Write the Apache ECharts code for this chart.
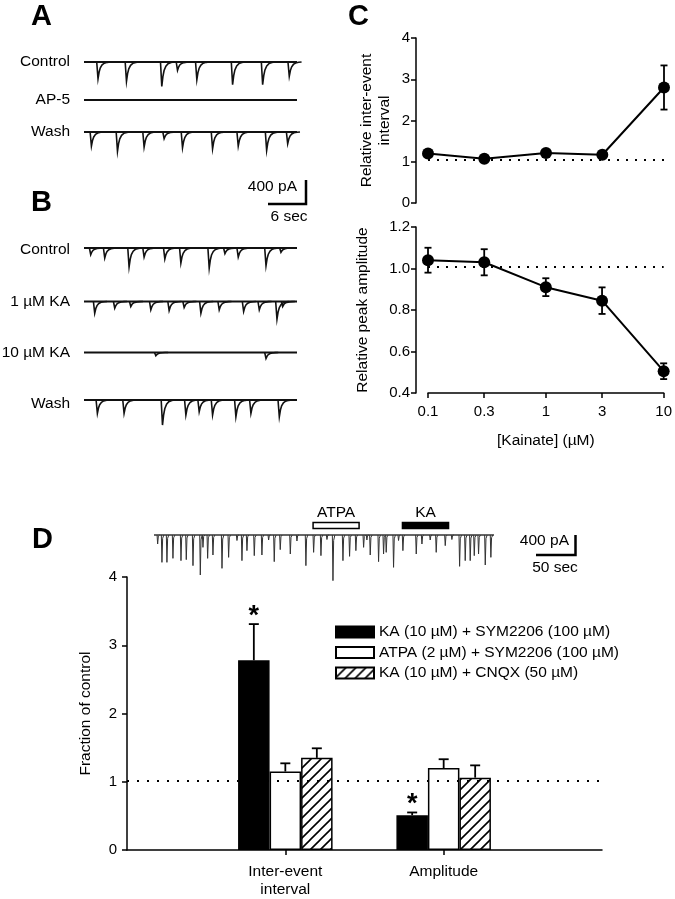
<!DOCTYPE html>
<html><head><meta charset="utf-8">
<script src="https://cdn.jsdelivr.net/npm/echarts@6/dist/echarts.min.js"></script>
<style>html,body{margin:0;padding:0;background:#fff}#c{width:675px;height:899px}</style>
</head><body><div id="c"></div>
<script>
// ================= DATA =================
// Panels A & B: spontaneous events, time (s) and amplitude (pA)
const abDuration = 33.6;
const aControlTimes = [2.1, 6.59, 12.16, 14.64, 17.69, 23.33, 28.07, 32.27];
const aControlAmps  = [279, 322, 406, 139, 296, 379, 379, 239];
const aAp5Times = [];
const aAp5Amps  = [];
const aWashTimes = [1.06, 5.17, 9.37, 12.53, 15.43, 20.17, 24.22, 28.7, 32.02];
const aWashAmps  = [234, 322, 250, 112, 262, 279, 234, 306, 195];
const bControlTimes = [0.95, 3.16, 7.0, 9.37, 12.64, 15.17, 19.64, 22.12, 24.22, 28.6, 30.96];
const bControlAmps  = [112, 167, 317, 150, 184, 250, 334, 95, 150, 296, 72];
const bKa1Times = [1.58, 4.74, 7.27, 10.43, 13.32, 15.69, 18.33, 21.22, 25.07, 27.54, 30.33, 31.23];
const bKa1Amps  = [195, 112, 84, 139, 150, 100, 195, 139, 167, 139, 296, 84];
const bKa10Times = [11.22, 28.6];
const bKa10Amps  = [55, 100];
const bWashTimes = [2.0, 6.21, 12.27, 15.96, 18.06, 20.17, 23.85, 26.22, 30.7];
const bWashAmps  = [222, 222, 418, 250, 195, 250, 279, 222, 279];

// Panel D trace
const dDuration = 436;
const dTimes = [4.3, 9.8, 16.2, 23.9, 34.2, 41.0, 49.6, 59.0, 62.4, 68.4, 75.2, 86.8, 95.3, 106, 112.4, 118.8, 128.2, 138.0, 146.6, 153.8, 161.5, 174.4, 182.9, 194.4, 204.3, 213.7, 221.4, 229.1, 241.9, 250.4, 258.5, 268.4, 272.6, 276.9, 287.6, 294.0, 297.4, 306.8, 313.2, 318.8, 335.9, 343.2, 353.8, 361.5, 373.1, 381.6, 391.5, 398.7, 405.1, 410.3, 415.8, 424.4, 431.6];
const dAmps  = [180, 547, 547, 467, 513, 493, 613, 800, 247, 467, 400, 667, 447, 110, 513, 313, 413, 400, 100, 533, 293, 380, 120, 613, 347, 413, 90, 913, 513, 427, 313, 247, 100, 400, 533, 380, 347, 647, 110, 313, 380, 180, 100, 347, 213, 90, 627, 513, 513, 413, 380, 600, 447];
const dDrugNames = ['ATPA', 'KA'];
const dDrugStart = [204, 318.6];
const dDrugEnd   = [263, 377.7];

// Panel C
const kainateConc = [0.1, 0.3, 1, 3, 10];
const kainateTickLabels = ['0.1', '0.3', '1', '3', '10'];
const intervalMean = [1.20, 1.07, 1.21, 1.17, 2.80];
const intervalSem  = [0.05, 0.04, 0.05, 0.05, 0.535];
const amplitudeMean = [1.04, 1.03, 0.91, 0.845, 0.505];
const amplitudeSem  = [0.06, 0.063, 0.043, 0.064, 0.038];
const intervalControlLevel = 1.04;
const amplitudeControlLevel = 1.01;

// Panel D bars
const dGroups = ['Inter-event\ninterval', 'Amplitude'];
const dSeriesNames = ['KA (10 µM) + SYM2206 (100 µM)', 'ATPA (2 µM) + SYM2206 (100 µM)', 'KA (10 µM) + CNQX (50 µM)'];
const dKaSym     = [2.78, 0.51];
const dKaSymErr  = [0.53, 0.04];
const dAtpaSym    = [1.15, 1.20];
const dAtpaSymErr = [0.12, 0.13];
const dKaCnqx     = [1.35, 1.06];
const dKaCnqxErr  = [0.14, 0.18];
const dSignificant = [[true, true], [false, false], [false, false]];
const dControlLevel = 1.02;

// ================= RENDER =================
const FONT = "'Liberation Sans', Arial, Helvetica, sans-serif";
const chart = echarts.init(document.getElementById('c'), null, {renderer: 'canvas'});

const slowShape = [[-0.6,0],[0.7,1],[1.8,0.6],[3,0.35],[4.8,0.17],[7,0.07],[10,0.02],[13,0]];
const fastShape = [[-0.3,0],[0.3,1],[1.0,0.12],[2.2,0]];
function eventRender(shape, lw, col) {
  return function (params, api) {
    const b = api.coord([api.value(0), 0]);
    const p = api.coord([api.value(0), -api.value(1)]);
    const d = p[1] - b[1];
    const pts = shape.map(s => [b[0] + s[0], b[1] + d * s[1]]);
    return {type: 'polyline', shape: {points: pts}, style: {stroke: col, lineWidth: lw, fill: null}};
  };
}

const grids = [], xAxes = [], yAxes = [], series = [];
function addTrace(times, amps, dur, baseY, left, width, ymin, ymax, pxPerUnit, shape, lw, col) {
  const gi = grids.length;
  const h = (ymax - ymin) / pxPerUnit;
  grids.push({left: left, width: width, top: baseY - ymax / pxPerUnit, height: h});
  xAxes.push({gridIndex: gi, type: 'value', min: 0, max: dur, show: false});
  yAxes.push({gridIndex: gi, type: 'value', min: ymin, max: ymax, show: false});
  series.push({type: 'line', xAxisIndex: gi, yAxisIndex: gi, data: [[0, 0], [dur, 0]],
    symbol: 'none', lineStyle: {color: col, width: lw + 0.3}, silent: true});
  series.push({type: 'custom', xAxisIndex: gi, yAxisIndex: gi, clip: false,
    data: times.map((t, i) => [t, amps[i]]), encode: {x: 0, y: 1},
    renderItem: eventRender(shape, lw, col), silent: true});
  return gi;
}
const abPx = 400 / 24; // pA per px
addTrace(aControlTimes, aControlAmps, abDuration, 62, 84, 213, -500, 50, abPx, slowShape, 1.6, '#111');
addTrace(aAp5Times, aAp5Amps, abDuration, 100, 84, 213, -500, 50, abPx, slowShape, 1.6, '#111');
addTrace(aWashTimes, aWashAmps, abDuration, 132, 84, 213, -500, 50, abPx, slowShape, 1.6, '#111');
addTrace(bControlTimes, bControlAmps, abDuration, 248, 84, 213, -500, 50, abPx, slowShape, 1.6, '#111');
addTrace(bKa1Times, bKa1Amps, abDuration, 301.5, 84, 213, -500, 50, abPx, slowShape, 1.6, '#111');
addTrace(bKa10Times, bKa10Amps, abDuration, 352.5, 84, 213, -500, 50, abPx, slowShape, 1.6, '#111');
addTrace(bWashTimes, bWashAmps, abDuration, 400, 84, 213, -500, 50, abPx, slowShape, 1.6, '#111');
const dTraceGrid = addTrace(dTimes, dAmps, dDuration, 535, 154, 340, -1000, 60, 20, fastShape, 1, '#333');

// drug application bars on D trace
series.push({type: 'custom', xAxisIndex: dTraceGrid, yAxisIndex: dTraceGrid, clip: false, silent: true,
  data: dDrugStart.map((s, i) => [s, dDrugEnd[i], 0]), encode: {x: [0, 1], y: 2},
  renderItem: function (params, api) {
    const s = api.coord([api.value(0), api.value(2)]);
    const e = api.coord([api.value(1), api.value(2)]);
    const i = params.dataIndex;
    return {type: 'group', children: [
      {type: 'rect', shape: {x: s[0], y: s[1] - 12.5, width: e[0] - s[0], height: 6},
        style: {fill: i === 0 ? '#fff' : '#000', stroke: '#000', lineWidth: 1.5}},
      {type: 'text', style: {text: dDrugNames[i], x: (s[0] + e[0]) / 2, y: s[1] - 22, align: 'center',
        verticalAlign: 'middle', fontSize: 15.5, fontFamily: FONT, fill: '#000'}}
    ]};
  }});

// ----- Panel C -----
function errRenderC(params, api) {
  const x = api.value(0), m = api.value(1), e = api.value(2);
  const hi = api.coord([x, m + e]), lo = api.coord([x, m - e]);
  const w = 3.5, st = {stroke: '#000', lineWidth: 1.8};
  return {type: 'group', children: [
    {type: 'line', shape: {x1: hi[0], y1: hi[1], x2: lo[0], y2: lo[1]}, style: st},
    {type: 'line', shape: {x1: hi[0] - w, y1: hi[1], x2: hi[0] + w, y2: hi[1]}, style: st},
    {type: 'line', shape: {x1: lo[0] - w, y1: lo[1], x2: lo[0] + w, y2: lo[1]}, style: st}
  ]};
}
function tickLabel(v) {
  for (let i = 0; i < kainateConc.length; i++) if (Math.abs(v - kainateConc[i]) / kainateConc[i] < 1e-6) return kainateTickLabels[i];
  return '';
}
const axisLineBlack = {show: true, lineStyle: {color: '#000', width: 1.5}};
const tickBlack = {show: true, length: 5, lineStyle: {color: '#000', width: 1.5}};
const lblStyle = {color: '#000', fontSize: 15, fontFamily: FONT};

function addCPanel(mean, sem, level, top, height, ymin, ymax, interval, yName, nameGap, showX, labelFmt) {
  const gi = grids.length;
  grids.push({left: 428, width: 236, top: top, height: height});
  xAxes.push({gridIndex: gi, type: 'log', logBase: 10, min: 0.1, max: 10, show: showX,
    axisLine: axisLineBlack, splitLine: {show: false}, minorTick: {show: false},
    axisTick: Object.assign({customValues: kainateConc}, tickBlack),
    axisLabel: Object.assign({customValues: kainateConc, formatter: tickLabel, margin: 11}, lblStyle),
    name: '[Kainate] (µM)', nameLocation: 'middle', nameGap: 40,
    nameTextStyle: {color: '#000', fontSize: 15.5, fontFamily: FONT}});
  yAxes.push({gridIndex: gi, type: 'value', min: ymin, max: ymax, interval: interval, offset: 12,
    axisLine: axisLineBlack, axisTick: tickBlack, splitLine: {show: false},
    axisLabel: Object.assign({margin: 6, formatter: labelFmt}, lblStyle),
    name: yName, nameLocation: 'middle', nameGap: nameGap, nameRotate: 90,
    nameTextStyle: {color: '#000', fontSize: 15.5, fontFamily: FONT, lineHeight: 18}});
  series.push({type: 'custom', xAxisIndex: gi, yAxisIndex: gi, silent: true, clip: false,
    data: kainateConc.map((c, i) => [c, mean[i], sem[i]]), encode: {x: 0, y: 1},
    renderItem: errRenderC, z: 3});
  series.push({type: 'line', xAxisIndex: gi, yAxisIndex: gi, silent: true,
    data: kainateConc.map((c, i) => [c, mean[i]]),
    symbol: 'circle', symbolSize: 12, itemStyle: {color: '#000'},
    lineStyle: {color: '#000', width: 2}, z: 4,
    markLine: {silent: true, symbol: 'none', label: {show: false},
      lineStyle: {color: '#000', width: 2, type: [2, 7]}, data: [{yAxis: level}]}});
}
addCPanel(intervalMean, intervalSem, intervalControlLevel, 38, 165, 0, 4, 1,
  'Relative inter-event\ninterval', 22, false, v => String(v));
addCPanel(amplitudeMean, amplitudeSem, amplitudeControlLevel, 227, 166, 0.4, 1.2, 0.2,
  'Relative peak amplitude', 44, true, v => v.toFixed(1));

// ----- Panel D bars -----
const dGi = grids.length;
grids.push({left: 127, width: 475, top: 577, height: 279});
const dCats = [''].concat(dGroups, ['']);
xAxes.push({gridIndex: dGi, type: 'category', data: dCats, boundaryGap: false,
  axisLine: axisLineBlack, splitLine: {show: false},
  axisTick: Object.assign({interval: (i) => i === 1 || i === 2}, tickBlack),
  axisLabel: Object.assign({interval: 0, margin: 13, lineHeight: 18}, lblStyle, {fontSize: 15.5})});
yAxes.push({gridIndex: dGi, type: 'value', min: 0, max: 4, interval: 1,
  axisLine: axisLineBlack, axisTick: tickBlack, splitLine: {show: false},
  axisLabel: Object.assign({margin: 10}, lblStyle),
  name: 'Fraction of control', nameLocation: 'middle', nameGap: 33, nameRotate: 90,
  nameTextStyle: {color: '#000', fontSize: 15.5, fontFamily: FONT}});

const hatch = document.createElement('canvas');
hatch.width = 10; hatch.height = 10;
(function () {
  const g = hatch.getContext('2d');
  g.fillStyle = '#fff'; g.fillRect(0, 0, 10, 10);
  g.strokeStyle = '#000'; g.lineWidth = 1.6;
  g.beginPath();
  g.moveTo(0, 10); g.lineTo(10, 0);
  g.moveTo(-5, 5); g.lineTo(5, -5);
  g.moveTo(5, 15); g.lineTo(15, 5);
  g.stroke();
})();
const barFills = ['#000', '#fff', {image: hatch, repeat: 'repeat'}];
const dVals = [dKaSym, dAtpaSym, dKaCnqx];
const dErrs = [dKaSymErr, dAtpaSymErr, dKaCnqxErr];
const BW = 31.5;
dVals.forEach((vals, k) => {
  series.push({type: 'bar', name: dSeriesNames[k], xAxisIndex: dGi, yAxisIndex: dGi,
    data: ['-'].concat(vals, ['-']), barWidth: BW, barGap: '0%', silent: true,
    itemStyle: {color: barFills[k], borderColor: '#000', borderWidth: 1.5},
    markLine: k === 0 ? {silent: true, symbol: 'none', label: {show: false},
      lineStyle: {color: '#000', width: 2, type: [2, 8]}, data: [{yAxis: dControlLevel}]} : undefined});
  series.push({type: 'custom', xAxisIndex: dGi, yAxisIndex: dGi, silent: true, clip: false, z: 5,
    data: vals.map((v, i) => [i + 1, v, dErrs[k][i], dSignificant[k][i] ? 1 : 0]), encode: {x: 0, y: 1},
    renderItem: function (params, api) {
      const c = api.coord([api.value(0), api.value(1)]);
      const t = api.coord([api.value(0), api.value(1) + api.value(2)]);
      const x = c[0] + (k - 1) * BW;
      const st = {stroke: '#000', lineWidth: 1.8};
      const ch = [
        {type: 'line', shape: {x1: x, y1: c[1], x2: x, y2: t[1]}, style: st},
        {type: 'line', shape: {x1: x - 5, y1: t[1], x2: x + 5, y2: t[1]}, style: st}
      ];
      if (api.value(3)) ch.push({type: 'text', style: {text: '*', x: x, y: t[1] - 8, align: 'center',
        verticalAlign: 'middle', fontSize: 27, fontWeight: 'bold', fontFamily: FONT, fill: '#000'}});
      return {type: 'group', children: ch};
    }});
});

// ----- annotations -----
function txt(t, x, y, opts) {
  return Object.assign({type: 'text', silent: true, style: Object.assign({text: t, x: x, y: y,
    fontSize: 15.5, fontFamily: FONT, fill: '#000', align: 'right', verticalAlign: 'middle'}, opts || {})});
}
const letter = {fontSize: 29, fontWeight: 'bold', align: 'left'};
const graphics = [
  txt('A', 31, 17, letter), txt('B', 31, 203, letter), txt('C', 348, 17, letter), txt('D', 32, 540, letter),
  txt('Control', 70, 62), txt('AP-5', 70, 100), txt('Wash', 70, 132),
  txt('Control', 70, 250), txt('1 µM KA', 70, 302), txt('10 µM KA', 70, 353), txt('Wash', 70, 404),
  txt('400 pA', 297, 187), txt('6 sec', 289, 217, {align: 'center'}),
  {type: 'polyline', silent: true, shape: {points: [[268, 204], [306, 204], [306, 180]]}, style: {stroke: '#000', lineWidth: 2.5, fill: null}},
  txt('400 pA', 569, 541), txt('50 sec', 555, 568, {align: 'center'}),
  {type: 'polyline', silent: true, shape: {points: [[536, 555], [575.5, 555], [575.5, 535]]}, style: {stroke: '#000', lineWidth: 2.5, fill: null}}
];

chart.setOption({
  animation: false,
  backgroundColor: '#fff',
  textStyle: {fontFamily: FONT},
  grid: grids, xAxis: xAxes, yAxis: yAxes, series: series,
  legend: {data: dSeriesNames, orient: 'vertical', left: 330, top: 619, itemWidth: 38, itemHeight: 11,
    itemGap: 4.5, icon: 'rect', selectedMode: false,
    textStyle: {fontSize: 15.5, color: '#000', fontFamily: FONT, padding: [0, 0, 0, 0]}},
  graphic: graphics
});
</script></body></html>
